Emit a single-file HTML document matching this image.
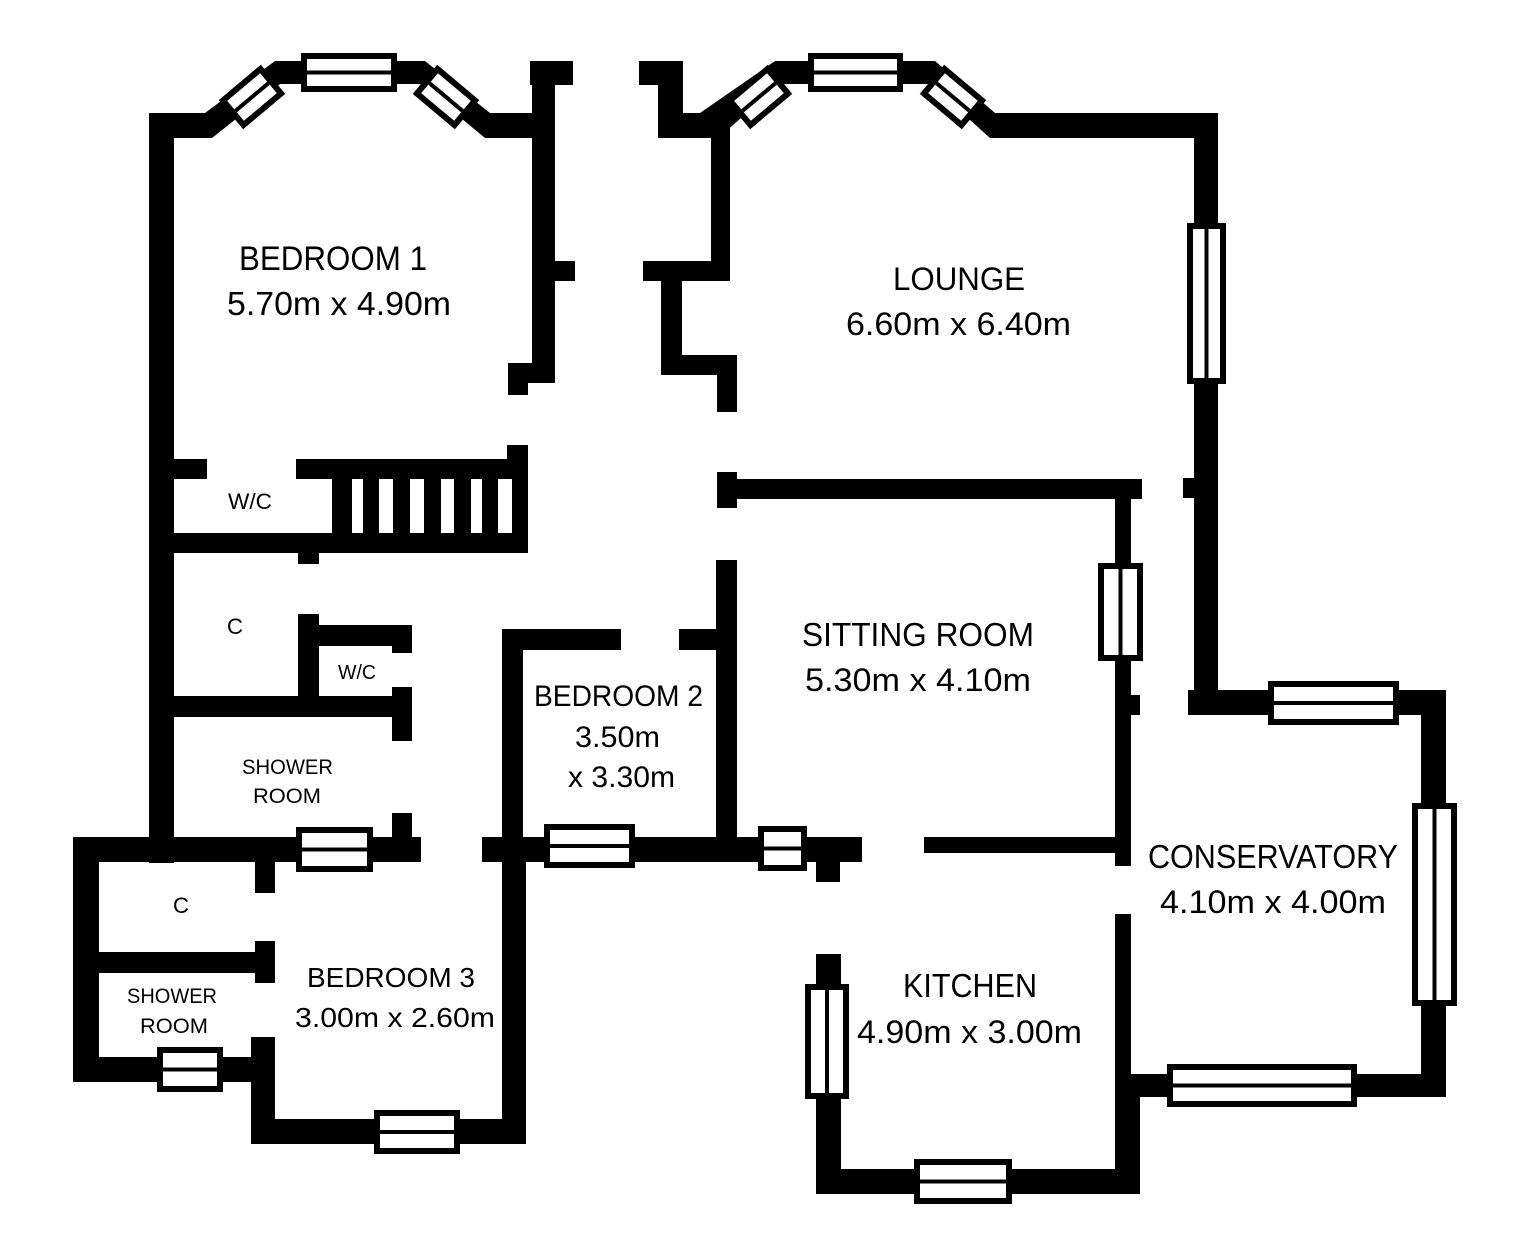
<!DOCTYPE html>
<html><head><meta charset="utf-8"><style>
html,body{margin:0;padding:0;background:#fff;}
svg{display:block;}
text{font-family:"Liberation Sans",sans-serif;fill:#000;}
</style></head><body>
<svg width="1517" height="1246" viewBox="0 0 1517 1246" xmlns="http://www.w3.org/2000/svg">
<rect width="1517" height="1246" fill="#fff"/>
<g fill="#000">
<!-- Bedroom 1 -->
<rect x="149" y="113" width="25" height="750"/>
<polygon points="205,113 275,61 425,61 490,113 533,113 533,138 485,138 420,84 280,84 212,138 149,138 149,113"/>
<rect x="530" y="61" width="43" height="24"/>
<rect x="532" y="61" width="23" height="322"/>
<rect x="555" y="261" width="20" height="20"/>
<rect x="508" y="363" width="47" height="20"/>
<rect x="508" y="363" width="20" height="32"/>
<!-- WC / stairs -->
<rect x="174" y="459" width="33" height="20"/>
<rect x="296" y="459" width="232" height="20"/>
<rect x="507" y="445" width="21" height="108"/>
<rect x="174" y="533" width="354" height="20"/>
<rect x="332" y="479" width="196" height="54"/>
<rect x="298" y="553" width="21" height="11"/>
<rect x="298" y="614" width="21" height="82"/>
<rect x="319" y="625" width="93" height="21"/>
<rect x="392" y="625" width="20" height="28"/>
<rect x="392" y="687" width="20" height="54"/>
<rect x="174" y="696" width="238" height="21"/>
<rect x="392" y="813" width="20" height="24"/>
<rect x="73" y="837" width="348" height="25"/>
<rect x="255" y="862" width="20" height="31"/>
<rect x="73" y="837" width="26" height="245"/>
<rect x="99" y="952" width="156" height="21"/>
<rect x="255" y="941" width="20" height="42"/>
<rect x="73" y="1057" width="202" height="25"/>
<rect x="251" y="1037" width="24" height="107"/>
<rect x="251" y="1119" width="275" height="25"/>
<rect x="502" y="629" width="21" height="233"/>
<rect x="502" y="862" width="24" height="282"/>
<rect x="502" y="629" width="119" height="21"/>
<rect x="679" y="629" width="58" height="21"/>
<rect x="716" y="560" width="21" height="277"/>
<rect x="482" y="837" width="380" height="25"/>
<rect x="816" y="862" width="24" height="20"/>
<rect x="924" y="837" width="207" height="16"/>
<!-- Sitting room -->
<rect x="1115" y="479" width="16" height="387"/>
<rect x="717" y="479" width="425" height="20"/>
<rect x="717" y="472" width="20" height="36"/>
<rect x="1131" y="695" width="9" height="20"/>
<!-- Lounge -->
<polygon points="700,113 775,61 935,61 995,113 1218,113 1218,138 990,138 930,84 780,84 718,138 658,138 658,113"/>
<rect x="639" y="61" width="44" height="24"/>
<rect x="658" y="61" width="25" height="77"/>
<rect x="711" y="113" width="19" height="168"/>
<rect x="643" y="261" width="87" height="20"/>
<rect x="661" y="281" width="21" height="94"/>
<rect x="661" y="355" width="76" height="20"/>
<rect x="717" y="355" width="20" height="57"/>
<rect x="1194" y="113" width="24" height="602"/>
<rect x="1183" y="478" width="11" height="20"/>
<!-- Conservatory / Kitchen -->
<rect x="1188" y="690" width="258" height="25"/>
<rect x="1421" y="690" width="25" height="407"/>
<rect x="1115" y="1074" width="331" height="23"/>
<rect x="1115" y="914" width="16" height="160"/>
<rect x="1115" y="1074" width="25" height="120"/>
<rect x="816" y="1169" width="324" height="25"/>
<rect x="816" y="954" width="25" height="240"/>
</g>
<!-- stair slots -->
<g fill="#fff">
<rect x="352" y="479" width="11" height="54"/>
<rect x="379" y="479" width="14" height="54"/>
<rect x="410" y="479" width="14" height="54"/>
<rect x="441" y="479" width="13" height="54"/>
<rect x="471" y="479" width="11" height="54"/>
<rect x="498" y="479" width="14" height="54"/>
</g>
<!-- horizontal windows -->
<g>
<g><rect x="301" y="53" width="96" height="39"/><rect x="307" y="59" width="84" height="27" fill="#fff"/><rect x="307" y="70.5" width="84" height="4"/></g>
<g><rect x="808" y="53" width="95" height="39"/><rect x="814" y="59" width="83" height="27" fill="#fff"/><rect x="814" y="70.5" width="83" height="4"/></g>
<g><rect x="296" y="827" width="77" height="45"/><rect x="302" y="833" width="65" height="33" fill="#fff"/><rect x="302" y="847.5" width="65" height="4"/></g>
<g><rect x="157" y="1047" width="66" height="45"/><rect x="163" y="1053" width="54" height="33" fill="#fff"/><rect x="163" y="1067.5" width="54" height="4"/></g>
<g><rect x="374" y="1110" width="86" height="44"/><rect x="380" y="1116" width="74" height="32" fill="#fff"/><rect x="380" y="1130" width="74" height="4"/></g>
<g><rect x="544" y="824" width="91" height="44"/><rect x="550" y="830" width="79" height="32" fill="#fff"/><rect x="550" y="844" width="79" height="4"/></g>
<g><rect x="758" y="826" width="49" height="45"/><rect x="764" y="832" width="37" height="33" fill="#fff"/><rect x="764" y="846.5" width="37" height="4"/></g>
<g><rect x="1268" y="681" width="131" height="44"/><rect x="1274" y="687" width="119" height="32" fill="#fff"/><rect x="1274" y="701" width="119" height="4"/></g>
<g><rect x="1167" y="1064" width="190" height="43"/><rect x="1173" y="1070" width="178" height="31" fill="#fff"/><rect x="1173" y="1083.5" width="178" height="4"/></g>
<g><rect x="914" y="1159" width="98" height="45"/><rect x="920" y="1165" width="86" height="33" fill="#fff"/><rect x="920" y="1179.5" width="86" height="4"/></g>
</g>
<!-- vertical windows -->
<g>
<g><rect x="1187" y="223" width="39" height="161"/><rect x="1193" y="229" width="27" height="149" fill="#fff"/><rect x="1204.5" y="229" width="4" height="149"/></g>
<g><rect x="1098" y="563" width="45" height="98"/><rect x="1104" y="569" width="33" height="86" fill="#fff"/><rect x="1118.5" y="569" width="4" height="86"/></g>
<g><rect x="1412" y="803" width="45" height="203"/><rect x="1418" y="809" width="33" height="191" fill="#fff"/><rect x="1432.5" y="809" width="4" height="191"/></g>
<g><rect x="805" y="984" width="44" height="115"/><rect x="811" y="990" width="32" height="103" fill="#fff"/><rect x="825" y="990" width="4" height="103"/></g>
</g>
<!-- diagonal bay windows -->
<g transform="translate(252,97) rotate(-40)"><rect x="-27.5" y="-19" width="55" height="38"/><rect x="-21.5" y="-13" width="43" height="26" fill="#fff"/><rect x="-21.5" y="-2" width="43" height="4"/></g>
<g transform="translate(446,97) rotate(40)"><rect x="-27.5" y="-19" width="55" height="38"/><rect x="-21.5" y="-13" width="43" height="26" fill="#fff"/><rect x="-21.5" y="-2" width="43" height="4"/></g>
<g transform="translate(759,97) rotate(-40)"><rect x="-27.5" y="-19" width="55" height="38"/><rect x="-21.5" y="-13" width="43" height="26" fill="#fff"/><rect x="-21.5" y="-2" width="43" height="4"/></g>
<g transform="translate(953,97) rotate(40)"><rect x="-27.5" y="-19" width="55" height="38"/><rect x="-21.5" y="-13" width="43" height="26" fill="#fff"/><rect x="-21.5" y="-2" width="43" height="4"/></g>
<!-- labels -->
<g lengthAdjust="spacingAndGlyphs">
<text x="239" y="270" font-size="34" textLength="188" lengthAdjust="spacingAndGlyphs">BEDROOM 1</text>
<text x="227" y="315" font-size="33" textLength="224" lengthAdjust="spacingAndGlyphs">5.70m x 4.90m</text>
<text x="893" y="290" font-size="32" textLength="132" lengthAdjust="spacingAndGlyphs">LOUNGE</text>
<text x="846" y="335" font-size="32" textLength="225" lengthAdjust="spacingAndGlyphs">6.60m x 6.40m</text>
<text x="802" y="646" font-size="33" textLength="232" lengthAdjust="spacingAndGlyphs">SITTING ROOM</text>
<text x="805" y="691" font-size="32" textLength="226" lengthAdjust="spacingAndGlyphs">5.30m x 4.10m</text>
<text x="534" y="706" font-size="30" textLength="169" lengthAdjust="spacingAndGlyphs">BEDROOM 2</text>
<text x="575" y="747" font-size="30" textLength="85" lengthAdjust="spacingAndGlyphs">3.50m</text>
<text x="568" y="787" font-size="30" textLength="107" lengthAdjust="spacingAndGlyphs">x 3.30m</text>
<text x="1148" y="868" font-size="33" textLength="250" lengthAdjust="spacingAndGlyphs">CONSERVATORY</text>
<text x="1160" y="913" font-size="32" textLength="226" lengthAdjust="spacingAndGlyphs">4.10m x 4.00m</text>
<text x="903" y="997" font-size="33" textLength="134" lengthAdjust="spacingAndGlyphs">KITCHEN</text>
<text x="857" y="1043" font-size="32" textLength="225" lengthAdjust="spacingAndGlyphs">4.90m x 3.00m</text>
<text x="307" y="987" font-size="28" textLength="168" lengthAdjust="spacingAndGlyphs">BEDROOM 3</text>
<text x="295" y="1027" font-size="28" textLength="200" lengthAdjust="spacingAndGlyphs">3.00m x 2.60m</text>
<text x="228" y="509" font-size="22" textLength="44" lengthAdjust="spacingAndGlyphs">W/C</text>
<text x="227" y="634" font-size="22" textLength="16" lengthAdjust="spacingAndGlyphs">C</text>
<text x="338" y="679" font-size="20" textLength="38" lengthAdjust="spacingAndGlyphs">W/C</text>
<text x="242" y="774" font-size="21" textLength="91" lengthAdjust="spacingAndGlyphs">SHOWER</text>
<text x="253" y="803" font-size="21" textLength="68" lengthAdjust="spacingAndGlyphs">ROOM</text>
<text x="173" y="913" font-size="22" textLength="16" lengthAdjust="spacingAndGlyphs">C</text>
<text x="127" y="1003" font-size="21" textLength="90" lengthAdjust="spacingAndGlyphs">SHOWER</text>
<text x="140" y="1033" font-size="21" textLength="68" lengthAdjust="spacingAndGlyphs">ROOM</text>
</g>
</svg>
</body></html>
